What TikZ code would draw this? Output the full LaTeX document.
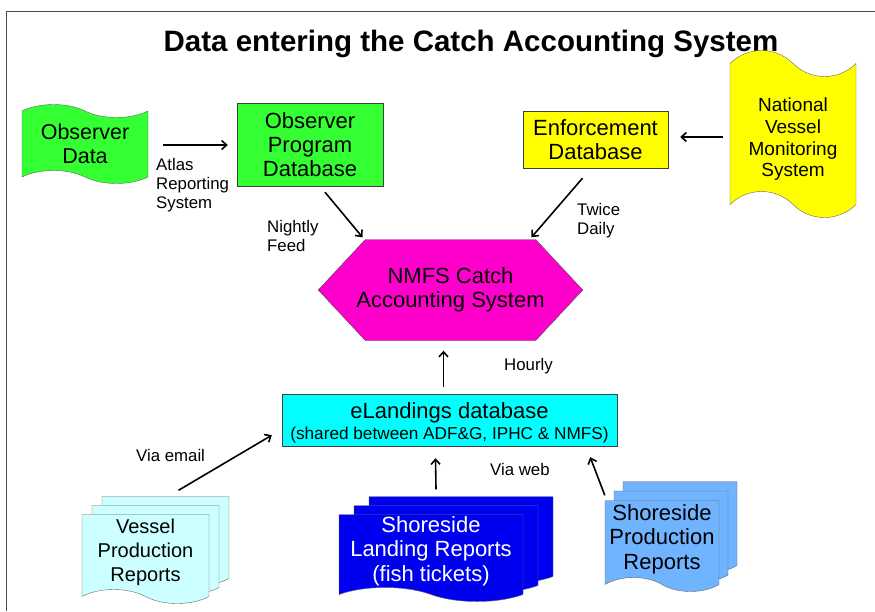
\documentclass[tikz,border=0pt]{standalone}
\usepackage{fontspec}
\setmainfont{Liberation Sans}
\usetikzlibrary{positioning}
\usetikzlibrary{shapes.symbols}
\usetikzlibrary{shadows}
\usetikzlibrary{arrows.meta}

\definecolor{obsgreen}{HTML}{33FF33}
\definecolor{enfyellow}{HTML}{FFFF00}
\definecolor{casmagenta}{HTML}{FF00CC}
\definecolor{elcyan}{HTML}{00FFFF}
\definecolor{vesselcyan}{HTML}{CCFFFF}
\definecolor{landblue}{HTML}{0000F0}
\definecolor{prodblue}{HTML}{70B4FF}

\begin{document}
\begin{tikzpicture}[x=1pt, y=-1pt,
                boxnode/.style={rectangle, draw=black!75, thin, align=center, inner sep=1pt, font=\fontsize{22}{24}\selectfont},
                tapenode/.style={tape, draw=black!60, thin, align=center, inner sep=1pt, tape bend top=out and in, tape bend bottom=out and in, font=\fontsize{21.5}{24}\selectfont},
                docnode/.style={tape, draw=black!60, thin, align=center, inner sep=1pt, tape bend top=none, tape bend bottom=out and in, tape bend height=14pt, font=\fontsize{22}{24.5}\selectfont},
                hexnode/.style={signal, signal to=west and east, signal pointer angle=94, draw=black!70, thin, align=center, inner xsep=-9pt, inner ysep=1pt, font=\fontsize{22}{24}\selectfont},
                textnode/.style={align=left, inner sep=0pt, font=\fontsize{16.8}{19}\selectfont},
                flow/.style={-{Straight Barb[length=5pt,width=9pt]}, line width=1.6pt},
            ]
            \useasboundingbox (0,0) rectangle (875,611);
            % frame
            \draw[black!70, line width=0.8pt] (6,611) -- (6,11) -- (875,11);

            % Nodes
            \node[font=\fontsize{29.5}{32}\selectfont\bfseries] (title) at (471,44) {Data entering the Catch Accounting System};

            \node[tapenode, fill=obsgreen, minimum width=126pt, minimum height=79pt, tape bend height=13pt] (obs_data) at (85,144) {Observer\\Data};
            \node[boxnode, fill=obsgreen, minimum width=146pt, minimum height=83pt] (obs_db) at (310,144.5) {Observer\\Program\\Database};
            \node[boxnode, fill=enfyellow, minimum width=145pt, minimum height=57pt] (enf_db) at (595.5,139.5) {Enforcement\\Database};
            \node[tapenode, fill=enfyellow, minimum width=126pt, minimum height=167pt, tape bend height=26pt, font=\fontsize{19}{21.7}\selectfont] (vms) at (793,134) {\mbox{}\\[3pt]National\\Vessel\\Monitoring\\System};

            \node[hexnode, fill=casmagenta, minimum height=101pt] (nmfs_cas) at (450.5,290) {NMFS Catch\\Accounting System};
            \node[boxnode, fill=elcyan, minimum width=335pt, minimum height=52pt] (elandings) at (449.5,420) {\mbox{}\\[-2pt]eLandings database\\[-3pt]{\fontsize{17.2}{20}\selectfont(shared between ADF\&G, IPHC \& NMFS)}};

            \node[docnode, fill=vesselcyan, minimum width=127pt, minimum height=89pt, font=\fontsize{20}{24}\selectfont, double copy shadow={shadow xshift=10pt, shadow yshift=9pt}] (vessel_prod) at (145.5,552) {Vessel\\Production\\Reports};
            \node[docnode, fill=landblue, text=white, minimum width=184pt, minimum height=87pt, double copy shadow={shadow xshift=15pt, shadow yshift=9pt}] (shore_land) at (431,551) {Shoreside\\Landing Reports\\(fish tickets)};
            \node[docnode, fill=prodblue, minimum width=114pt, minimum height=91pt, double copy shadow={shadow xshift=9pt, shadow yshift=9.5pt}] (shore_prod) at (662,539) {Shoreside\\Production\\Reports};

            % Labels
            \node[textnode, anchor=west] (atlas) at (156,185) {Atlas\\Reporting\\System};
            \node[textnode, anchor=west] (nightly) at (267,236) {Nightly\\Feed};
            \node[textnode, anchor=west] (twice) at (577,221) {Twice\\Daily};
            \node[textnode, anchor=west] (hourly) at (504,366) {Hourly};
            \node[textnode, anchor=west] (via_email) at (136,455) {Via email};
            \node[textnode, anchor=west] (via_web) at (490,469) {Via web};

            %Lines
            \draw[flow, shorten <=15pt, shorten >=9pt] (obs_data.east |- 0,145) -- (obs_db.west |- 0,145);
            \draw[flow] ([xshift=15pt, yshift=-6pt]obs_db.south) -- ([xshift=-88pt, yshift=2pt]nmfs_cas.north);
            \draw[flow] ([xshift=-13pt, yshift=-10pt]enf_db.south) -- ([xshift=81pt, yshift=2pt]nmfs_cas.north);
            \draw[flow, shorten <=7pt, shorten >=12pt] (vms.west |- 0,137) -- (enf_db.east |- 0,137);
            \draw[flow, shorten <=7pt, shorten >=10pt] ([xshift=-6pt]elandings.north) -- ([xshift=-7pt]nmfs_cas.south);

            \draw[flow] ([xshift=33pt, yshift=24pt]vessel_prod.north) -- ([xshift=-10pt, yshift=11pt]elandings.south west);
            \draw[flow] ([xshift=5pt, yshift=25pt]shore_land.north) -- ([xshift=-14pt, yshift=-12pt]elandings.south);
            \draw[flow] ([yshift=5pt]shore_prod.north west) -- ([xshift=-27pt, yshift=-11pt]elandings.south east);
        \end{tikzpicture}
\end{document}
